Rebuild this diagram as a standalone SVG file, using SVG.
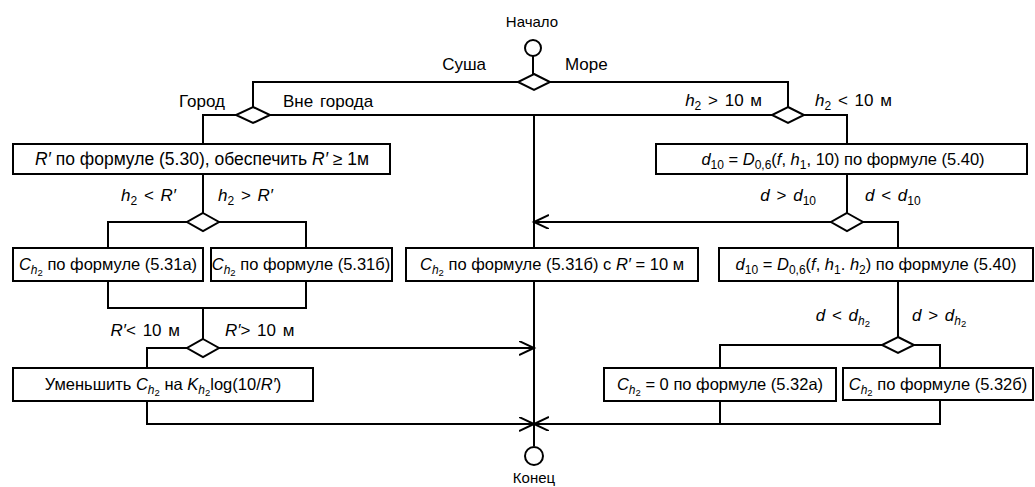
<svg xmlns="http://www.w3.org/2000/svg" width="1035" height="487" viewBox="0 0 1035 487">
<style>
.t{font-family:"Liberation Sans",Arial,sans-serif;font-size:17px;word-spacing:2px;fill:#000}
.tt{font-family:"Liberation Sans",Arial,sans-serif;font-size:15px;fill:#000;text-anchor:middle}
.bt{font-family:"Liberation Sans",Arial,sans-serif;font-size:16.5px;fill:#000;text-anchor:middle}
.i{font-style:italic}
.s{font-size:12px}
.ss{font-size:9.5px}
.box{fill:#fff;stroke:#000;stroke-width:2}
.dia{fill:#fff;stroke:#000;stroke-width:2}
.ln{fill:none;stroke:#000;stroke-width:2}
.term{fill:#fff;stroke:#000;stroke-width:2}
</style>
<defs>
<marker id="arr" markerUnits="userSpaceOnUse" markerWidth="18" markerHeight="16" refX="15" refY="7" orient="auto">
<path d="M0,0 L15,7 L0,14" fill="none" stroke="#000" stroke-width="2"/>
</marker>
</defs>
<rect width="1035" height="487" fill="#fff"/>

<g id="connectors">
<path class="ln" d="M533,56 V75"/>
<path class="ln" d="M518,82 H253 V107"/>
<path class="ln" d="M550,82 H788 V107"/>
<path class="ln" d="M270,115 H772"/>
<path class="ln" d="M237,115 H203 V144"/>
<path class="ln" d="M804,115 H847 V144"/>
<path class="ln" d="M534,115 V248"/>
<path class="ln" d="M534,281 V446"/>
<path class="ln" d="M203,174 V213"/>
<path class="ln" d="M187,222 H108 V248"/>
<path class="ln" d="M219,222 H306 V248"/>
<path class="ln" d="M108,281 V308 H306 V281"/>
<path class="ln" d="M203,308 V339"/>
<path class="ln" d="M219,348 H534" marker-end="url(#arr)"/>
<path class="ln" d="M187,348 H147 V368"/>
<path class="ln" d="M147,401 V424 H534" marker-end="url(#arr)"/>
<path class="ln" d="M847,174 V213"/>
<path class="ln" d="M831,222 H534" marker-end="url(#arr)"/>
<path class="ln" d="M863,222 H898 V248"/>
<path class="ln" d="M898,281 V337"/>
<path class="ln" d="M882,345 H720 V368"/>
<path class="ln" d="M914,345 H940 V368"/>
<path class="ln" d="M720,401 V424 M940,401 V424 H534" marker-end="url(#arr)"/>
</g>

<g id="start">
<circle class="term" cx="533" cy="48" r="8"/>
<text class="tt" x="532" y="27">Начало</text>
</g>

<g id="d-land-sea">
<path class="dia" d="M534,74 L550,82 L534,90 L518,82 Z"/>
<text class="t" x="486" y="70" text-anchor="end">Суша</text>
<text class="t" x="565" y="70">Море</text>
</g>

<g id="d-city">
<path class="dia" d="M253,107 L270,115 L253,123 L236,115 Z"/>
<text class="t" x="225" y="107" text-anchor="end">Город</text>
<text class="t" x="283" y="107">Вне города</text>
</g>

<g id="d-h2">
<path class="dia" d="M788,107 L804,115 L788,123 L772,115 Z"/>
<text class="t" x="762" y="106" text-anchor="end"><tspan class="i">h</tspan><tspan class="s" dy="4">2</tspan><tspan dy="-4"> &gt; 10 м</tspan></text>
<text class="t" x="815" y="106"><tspan class="i">h</tspan><tspan class="s" dy="4">2</tspan><tspan dy="-4"> &lt; 10 м</tspan></text>
</g>

<g id="b-r">
<rect class="box" x="13" y="144" width="377" height="30"/>
<text class="bt" x="202" y="165" style="font-size:17.5px"><tspan class="i">R′</tspan> по формуле (5.30), обеспечить <tspan class="i">R′</tspan> ≥ 1м</text>
</g>

<g id="b-d10a">
<rect class="box" x="656" y="144" width="371" height="30"/>
<text class="bt" x="843" y="165"><tspan class="i">d</tspan><tspan class="s" dy="4">10</tspan><tspan dy="-4"> = </tspan><tspan class="i">D</tspan><tspan class="s" dy="4">0,6</tspan><tspan dy="-4">(</tspan><tspan class="i">f</tspan>, <tspan class="i">h</tspan><tspan class="s" dy="4">1</tspan><tspan dy="-4">, 10) по формуле (5.40)</tspan></text>
</g>

<g id="d-hr">
<path class="dia" d="M203,213 L219,222 L203,231 L187,222 Z"/>
<text class="t" x="176" y="201" text-anchor="end"><tspan class="i">h</tspan><tspan class="s" dy="4">2</tspan><tspan dy="-4"> &lt; </tspan><tspan class="i">R′</tspan></text>
<text class="t" x="218" y="201"><tspan class="i">h</tspan><tspan class="s" dy="4">2</tspan><tspan dy="-4"> &gt; </tspan><tspan class="i">R′</tspan></text>
</g>

<g id="d-d10">
<path class="dia" d="M847,213 L863,222 L847,231 L831,222 Z"/>
<text class="t" x="816" y="201" text-anchor="end"><tspan class="i">d</tspan> &gt; <tspan class="i">d</tspan><tspan class="s" dy="4">10</tspan></text>
<text class="t" x="865" y="201"><tspan class="i">d</tspan> &lt; <tspan class="i">d</tspan><tspan class="s" dy="4">10</tspan></text>
</g>

<g id="b-531a">
<rect class="box" x="13" y="248" width="190" height="33"/>
<text class="bt" x="108" y="270"><tspan class="i">C</tspan><tspan class="i s" dy="4">h</tspan><tspan class="ss" dy="2">2</tspan><tspan dy="-6"> по формуле (5.31а)</tspan></text>
</g>

<g id="b-531b">
<rect class="box" x="211" y="248" width="181" height="33"/>
<text class="bt" x="301" y="270"><tspan class="i">C</tspan><tspan class="i s" dy="4">h</tspan><tspan class="ss" dy="2">2</tspan><tspan dy="-6"> по формуле (5.31б)</tspan></text>
</g>

<g id="b-center">
<rect class="box" x="406" y="248" width="292" height="33"/>
<text class="bt" x="552" y="270"><tspan class="i">C</tspan><tspan class="i s" dy="4">h</tspan><tspan class="ss" dy="2">2</tspan><tspan dy="-6"> по формуле (5.31б) с </tspan><tspan class="i">R′</tspan> = 10 м</text>
</g>

<g id="b-d10b">
<rect class="box" x="719" y="248" width="314" height="33"/>
<text class="bt" x="876" y="270"><tspan class="i">d</tspan><tspan class="s" dy="4">10</tspan><tspan dy="-4"> = </tspan><tspan class="i">D</tspan><tspan class="s" dy="4">0,6</tspan><tspan dy="-4">(</tspan><tspan class="i">f</tspan>, <tspan class="i">h</tspan><tspan class="s" dy="4">1</tspan><tspan dy="-4">. </tspan><tspan class="i">h</tspan><tspan class="s" dy="4">2</tspan><tspan dy="-4">) по формуле (5.40)</tspan></text>
</g>

<g id="d-r10">
<path class="dia" d="M203,339 L219,348 L203,357 L187,348 Z"/>
<text class="t" x="180" y="336" text-anchor="end"><tspan class="i">R′</tspan>&lt; 10 м</text>
<text class="t" x="225" y="336"><tspan class="i">R′</tspan>&gt; 10 м</text>
</g>

<g id="d-dh2">
<path class="dia" d="M898,337 L914,345 L898,353 L882,345 Z"/>
<text class="t" x="870" y="321" text-anchor="end"><tspan class="i">d</tspan> &lt; <tspan class="i">d</tspan><tspan class="i s" dy="4">h</tspan><tspan class="ss" dy="2">2</tspan></text>
<text class="t" x="912" y="321"><tspan class="i">d</tspan> &gt; <tspan class="i">d</tspan><tspan class="i s" dy="4">h</tspan><tspan class="ss" dy="2">2</tspan></text>
</g>

<g id="b-reduce">
<rect class="box" x="13" y="368" width="300" height="33"/>
<text class="bt" x="163" y="390">Уменьшить <tspan class="i">C</tspan><tspan class="i s" dy="4">h</tspan><tspan class="ss" dy="2">2</tspan><tspan dy="-6"> на </tspan><tspan class="i">K</tspan><tspan class="i s" dy="4">h</tspan><tspan class="ss" dy="2">2</tspan><tspan dy="-6">log(10/</tspan><tspan class="i">R′</tspan>)</text>
</g>

<g id="b-532a">
<rect class="box" x="604" y="368" width="232" height="33"/>
<text class="bt" x="720" y="390"><tspan class="i">C</tspan><tspan class="i s" dy="4">h</tspan><tspan class="ss" dy="2">2</tspan><tspan dy="-6"> = 0 по формуле (5.32а)</tspan></text>
</g>

<g id="b-532b">
<rect class="box" x="843" y="368" width="190" height="32"/>
<text class="bt" x="938" y="390"><tspan class="i">C</tspan><tspan class="i s" dy="4">h</tspan><tspan class="ss" dy="2">2</tspan><tspan dy="-6"> по формуле (5.32б)</tspan></text>
</g>

<g id="end">
<circle class="term" cx="534" cy="456" r="9"/>
<text class="tt" x="534" y="483">Конец</text>
</g>
</svg>
